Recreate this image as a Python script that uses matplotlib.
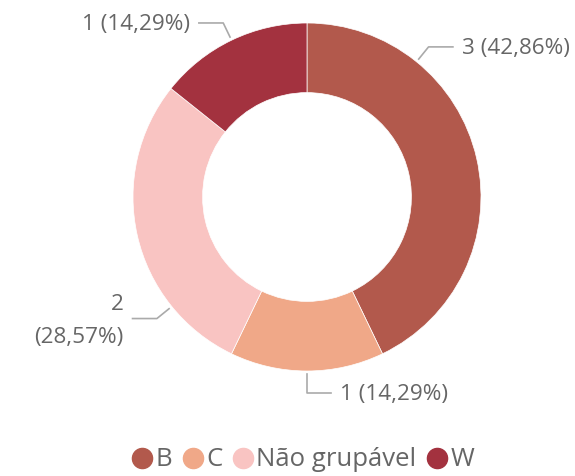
import numpy as np
import matplotlib
matplotlib.use("Agg")
import matplotlib.pyplot as plt
from matplotlib.lines import Line2D

plt.rcParams['font.family'] = ['Open Sans', 'DejaVu Sans']

# dados
categorias = ['B', 'C', 'Não grupável', 'W']
valores = [3, 1, 2, 1]
cores = ['#B2594C', '#F0A888', '#F9C4C2', '#A3323F']
# angulo (graus) onde a linha guia sai de cada fatia
angulos_guia = [51, 270, 219, 115.7]

cor_texto = '#666666'
cor_linha = '#AAAAAA'
fs = 16.2

fig = plt.figure(figsize=(5.75, 4.76), dpi=100)
# centro do donut em (307, 197) px, raio 174 px
cx, cy, r = 307, 197, 174
ax = fig.add_axes([(cx - r) / 575, (476 - cy - r) / 476, 2 * r / 575, 2 * r / 476])

ax.pie(valores, colors=cores, startangle=90, counterclock=False, radius=1,
       wedgeprops=dict(width=0.4, edgecolor='white', linewidth=0.5))
ax.set_xlim(-1, 1)
ax.set_ylim(-1, 1)
ax.set_aspect('equal')
ax.axis('off')

total = sum(valores)
for i, v in enumerate(valores):
    pct = '{:.2f}'.format(100 * v / total).replace('.', ',')
    a = np.deg2rad(angulos_guia[i])
    x0, y0 = 1.02 * np.cos(a), 1.02 * np.sin(a)
    x1, y1 = 1.11 * np.cos(a), 1.11 * np.sin(a)
    if np.cos(a) >= -1e-6:
        if abs(np.cos(a)) < 1e-6:
            x1, y1 = 0, -1.126
        x2 = x1 + 0.14
        ax.plot([x0, x1, x2], [y0, y1, y1], color=cor_linha, lw=1.2, clip_on=False)
        ax.text(x2 + 0.05, y1 - 0.01, '%d (%s%%)' % (v, pct), ha='left', va='center',
                fontsize=fs, color=cor_texto)
    else:
        x2 = x1 - 0.14
        ax.plot([x0, x1, x2], [y0, y1, y1], color=cor_linha, lw=1.2, clip_on=False)
        if categorias[i] == 'Não grupável':
            ax.text(x2 - 0.05, y1 + 0.08, '%d' % v, ha='right', va='center',
                    fontsize=fs, color=cor_texto)
            ax.text(x2 - 0.05, y1 - 0.11, '(%s%%)' % pct, ha='right', va='center',
                    fontsize=fs, color=cor_texto)
        else:
            ax.text(x2 - 0.05, y1 - 0.01, '%d (%s%%)' % (v, pct), ha='right', va='center',
                    fontsize=fs, color=cor_texto)

handles = [Line2D([], [], marker='o', linestyle='', markersize=14.5, color=c) for c in cores]
fig.legend(handles, categorias, loc='center', bbox_to_anchor=(303 / 575, 1 - 460 / 476),
           ncol=4, frameon=False, handletextpad=0.12, columnspacing=0.4,
           handlelength=0.8, fontsize=18.5, labelcolor=cor_texto)

fig.savefig('out.png', dpi=100)
